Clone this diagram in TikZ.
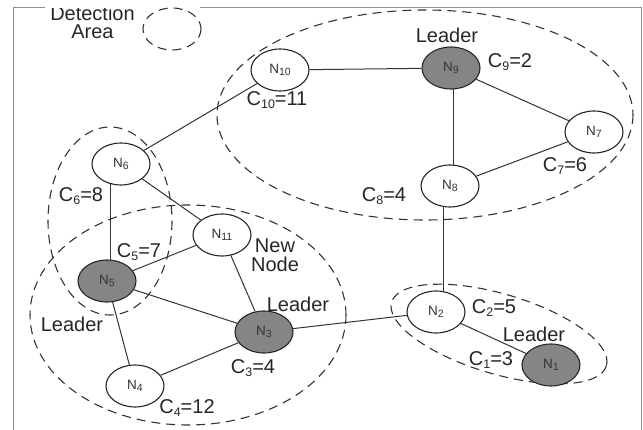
\documentclass[tikz,border=0pt]{standalone}
\usepackage{fontspec}
\setmainfont{Liberation Sans}
\usetikzlibrary{shapes.geometric,calc}
\pgfdeclarelayer{bg}
\pgfsetlayers{bg,main}
\definecolor{ldgray}{RGB}{133,133,133}
\newcommand\sbs[1]{\raisebox{-0.3ex}{\scalebox{0.62}{#1}}}
\newcommand\nsb[1]{\raisebox{-0.25ex}{\scalebox{0.78}{#1}}}
\begin{document}
\begin{tikzpicture}[x=1pt,y=-1pt,
 nd/.style={ellipse,draw=black!85,line width=1.1pt,fill=white,minimum width=58pt,minimum height=42pt,inner sep=0pt,font=\fontsize{13.5}{13.5}\selectfont,text=black!80},
 ld/.style={nd,fill=ldgray},
 lbl/.style={font=\fontsize{20}{19.5}\selectfont,text=black!85,inner sep=0pt,align=center},
 zone/.style={draw=black!80,line width=1.1pt,dash pattern=on 9pt off 6pt},
 edge/.style={draw=black!80,line width=1pt},
 frame/.style={draw=black!45,line width=1pt}]
\useasboundingbox (0,0) rectangle (643,430);
% frame
\draw[frame] (13,430) -- (13,8) -- (45,8);
\draw[frame] (200,8) -- (641,8) -- (641,430);
% zones
\draw[zone] (172,29) ellipse [x radius=29, y radius=21];
\draw[zone] (425,115) ellipse [x radius=208, y radius=105];
\draw[zone] (110,221) ellipse [x radius=62, y radius=94];
\draw[zone] (188,315) ellipse [x radius=158, y radius=110];
\draw[zone, rotate around={-16.5:(499,334)}] (499,334) ellipse [x radius=112, y radius=40];
% nodes
\node[nd] (n10) at (280,70) {N\nsb{10}};
\node[ld] (n9) at (451,68) {N\nsb{9}};
\node[nd] (n7) at (594,132) {N\nsb{7}};
\node[nd] (n8) at (450,186) {N\nsb{8}};
\node[nd] (n6) at (121,164) {N\nsb{6}};
\node[nd] (n11) at (222,235) {N\nsb{11}};
\node[ld] (n5) at (107,281) {N\nsb{5}};
\node[ld] (n3) at (264,332) {N\nsb{3}};
\node[nd] (n4) at (135,386) {N\nsb{4}};
\node[nd] (n2) at (436,312) {N\nsb{2}};
\node[ld] (n1) at (551,365) {N\nsb{1}};
% edges
\begin{pgfonlayer}{bg}
\draw[edge] ($(n8)+(-7,0)$) -- ($(n2)+(7,0)$);
\draw[edge] ($(n6)+(-11,0)$) -- ($(n5)+(3,0)$);
\draw[edge] ($(n9)+(2,0)$) -- ($(n8)+(3,0)$);
\end{pgfonlayer}
\draw[edge] (n10) -- (n9);
\draw[edge] (n10) -- (n6);
\draw[edge] (n9) -- (n7);
\draw[edge] (n7) -- (n8);
\draw[edge] (n6) -- (n11);
\draw[edge] (n11) -- (n5);
\draw[edge] (n11) -- (n3);
\draw[edge] (n5) -- (n3);
\draw[edge] (n5) -- (n4);
\draw[edge] (n4) -- (n3);
\draw[edge] (n3) -- (n2);
\draw[edge] (n2) -- (n1);
% labels
\begin{scope}
\clip (0,8.3) rectangle (643,430);
\node[lbl,anchor=base] (tda) at (92.5,20.5) {Detection};
\end{scope}
\node[lbl,anchor=base] (tdb) at (92.5,39) {Area};
\node[lbl] (t9l) at (447,35) {Leader};
\node[lbl] (t9) at (510,62) {C\sbs{9}=2};
\node[lbl] (t7) at (565,166) {C\sbs{7}=6};
\node[lbl] (t8) at (384,196) {C\sbs{8}=4};
\node[lbl] (t10) at (277,100) {C\sbs{10}=11};
\node[lbl] (t6) at (81,196) {C\sbs{6}=8};
\node[lbl] (t5) at (139,252) {C\sbs{5}=7};
\node[lbl] (tnew) at (275,255) {New\\Node};
\node[lbl] (t3l) at (298,304) {Leader};
\node[lbl] (t5l) at (72,324) {Leader};
\node[lbl] (t3) at (253,368) {C\sbs{3}=4};
\node[lbl] (t4) at (187,408) {C\sbs{4}=12};
\node[lbl] (t2) at (494,308) {C\sbs{2}=5};
\node[lbl] (t1l) at (534,334) {Leader};
\node[lbl] (t1) at (491,360) {C\sbs{1}=3};
\end{tikzpicture}
\end{document}
